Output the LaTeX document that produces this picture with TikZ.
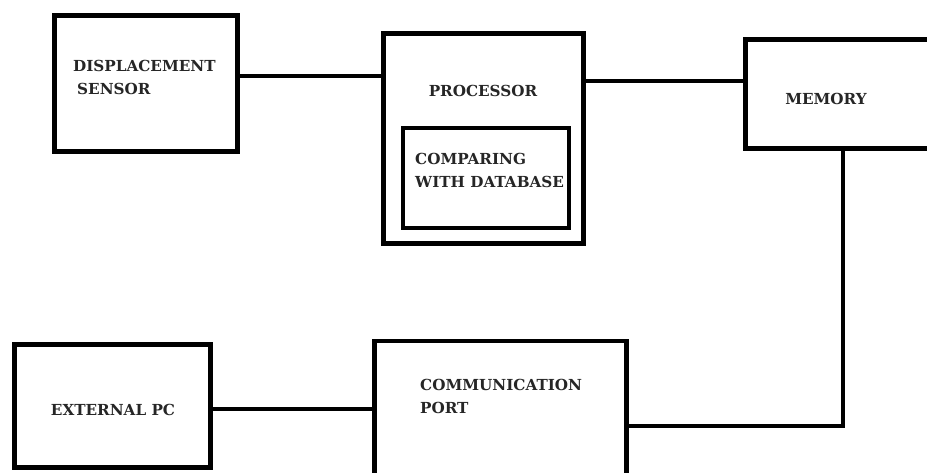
\documentclass[tikz,border=0pt]{standalone}
\usepackage{fontspec}
\setmainfont{DejaVu Serif}
\begin{document}
\begin{tikzpicture}[x=1pt,y=-1pt,
  box/.style={draw=black,line width=4.6pt,minimum width=#1,inner sep=0pt,fill=none},
  wire/.style={draw=black,line width=4.2pt},
  lbl/.style={font=\bfseries\fontsize{15.2}{23.5}\selectfont,text=black!85,inner sep=0pt,align=left}]
\useasboundingbox[fill=white] (0,0) rectangle (927,473);
% boxes
\node[box=183pt,minimum height=136pt] (sensor) at (146,83.5) {};
\node[box=200pt,minimum height=210pt] (proc) at (483.5,138.5) {};
\node[box=166pt,minimum height=100pt,line width=4.2pt] (cmp) at (486,178) {};
\node[box=195pt,minimum height=109pt] (mem) at (843,94) {};
\node[box=252pt,minimum height=139pt] (port) at (500.5,410.5) {};
\node[box=196pt,minimum height=123pt] (ext) at (112.5,406) {};
% labels
\node[lbl,anchor=north west] (sensortxt) at (73,60) {DISPLACEMENT\\\hspace*{4pt}SENSOR};
\node[lbl] (proctxt) at (483,91) {PROCESSOR};
\node[lbl,anchor=north west] (cmptxt) at (415,153) {COMPARING\\WITH DATABASE};
\node[lbl] (memtxt) at (826,99) {MEMORY};
\node[lbl,anchor=north west] (porttxt) at (420,379) {COMMUNICATION\\PORT};
\node[lbl] (exttxt) at (113,410) {EXTERNAL PC};
% connectors
\draw[wire] (sensor.east |- 0,76) -- (proc.west |- 0,76);
\draw[wire] (proc.east |- 0,81) -- (mem.west |- 0,81);
\draw[wire] (mem.south) -- (mem.south |- 0,426) -- (port.east |- 0,426);
\draw[wire] (ext.east |- 0,409) -- (port.west |- 0,409);
\end{tikzpicture}
\end{document}
